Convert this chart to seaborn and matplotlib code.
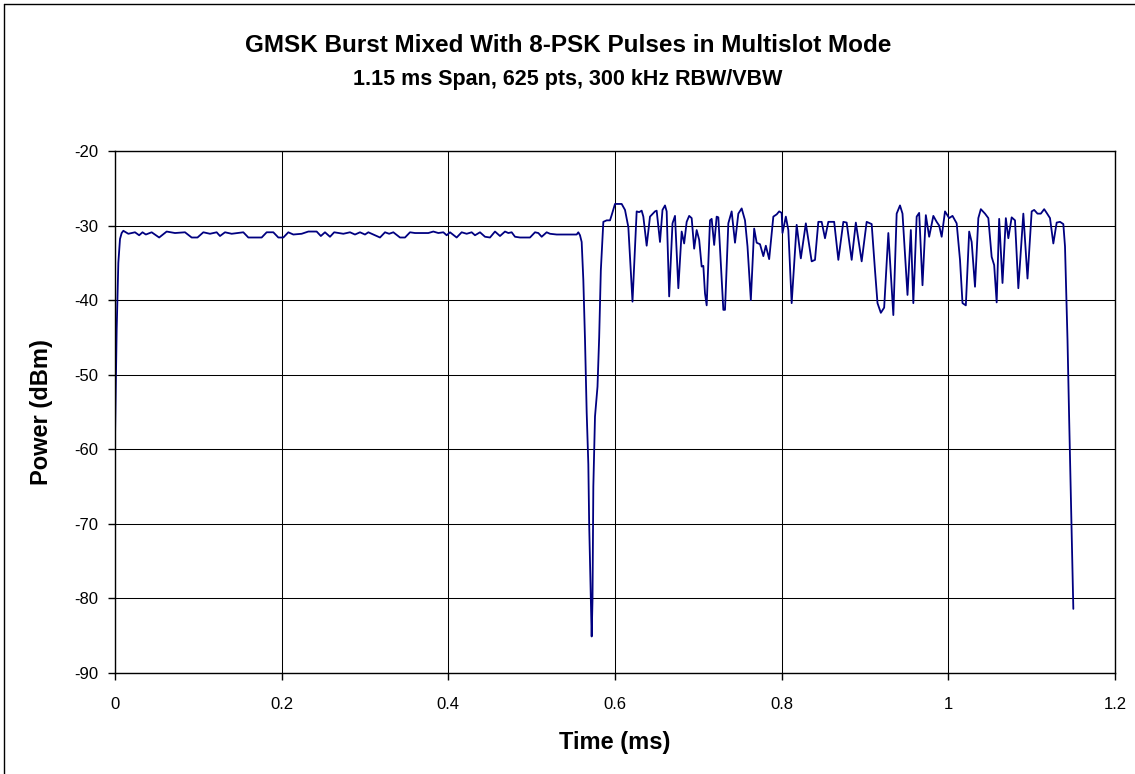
import matplotlib
matplotlib.use("Agg")
import pandas as pd
import matplotlib.pyplot as plt
import seaborn as sns
from matplotlib.lines import Line2D

# 読み取った波形 (時間 ms, 電力 dBm)
TIME_MS = [
    0.000, 0.002, 0.004, 0.006, 0.008, 0.010, 0.016, 0.024, 0.029, 0.033,
    0.037, 0.044, 0.053, 0.062, 0.072, 0.084, 0.092, 0.099, 0.106, 0.114,
    0.122, 0.126, 0.132, 0.140, 0.154, 0.160, 0.176, 0.182, 0.190, 0.196,
    0.202, 0.208, 0.214, 0.224, 0.232, 0.242, 0.247, 0.252, 0.258, 0.263,
    0.274, 0.282, 0.288, 0.294, 0.300, 0.304, 0.310, 0.318, 0.324, 0.329,
    0.334, 0.342, 0.348, 0.354, 0.360, 0.376, 0.382, 0.388, 0.394, 0.398,
    0.402, 0.410, 0.416, 0.422, 0.428, 0.432, 0.438, 0.444, 0.450, 0.456,
    0.462, 0.468, 0.472, 0.476, 0.480, 0.486, 0.498, 0.504, 0.508, 0.512,
    0.518, 0.522, 0.530, 0.554, 0.556, 0.558, 0.560, 0.562, 0.564, 0.566,
    0.568, 0.569, 0.571, 0.572, 0.573, 0.574, 0.576, 0.579, 0.581, 0.583,
    0.586, 0.590, 0.594, 0.596, 0.600, 0.608, 0.612, 0.616, 0.621, 0.626,
    0.629, 0.632, 0.634, 0.638, 0.642, 0.648, 0.650, 0.654, 0.657, 0.660,
    0.662, 0.665, 0.669, 0.672, 0.676, 0.680, 0.683, 0.686, 0.689, 0.692,
    0.695, 0.698, 0.701, 0.704, 0.706, 0.708, 0.710, 0.714, 0.716, 0.719,
    0.722, 0.724, 0.727, 0.730, 0.732, 0.736, 0.740, 0.744, 0.748, 0.752,
    0.756, 0.759, 0.763, 0.767, 0.770, 0.774, 0.778, 0.781, 0.785, 0.790,
    0.794, 0.797, 0.800, 0.801, 0.805, 0.808, 0.812, 0.818, 0.823, 0.829,
    0.836, 0.840, 0.844, 0.848, 0.852, 0.856, 0.863, 0.868, 0.874, 0.878,
    0.884, 0.889, 0.896, 0.902, 0.908, 0.912, 0.915, 0.919, 0.923, 0.928,
    0.934, 0.938, 0.942, 0.945, 0.951, 0.955, 0.958, 0.962, 0.965, 0.969,
    0.973, 0.977, 0.982, 0.986, 0.989, 0.992, 0.996, 1.001, 1.005, 1.010,
    1.014, 1.017, 1.021, 1.025, 1.028, 1.032, 1.036, 1.039, 1.044, 1.048,
    1.052, 1.055, 1.058, 1.061, 1.065, 1.069, 1.072, 1.076, 1.080, 1.084,
    1.090, 1.095, 1.100, 1.103, 1.107, 1.111, 1.115, 1.118, 1.122, 1.126,
    1.130, 1.134, 1.138, 1.140, 1.143, 1.145, 1.150,
]
POWER_DBM = [
    -58.5, -44.0, -35.0, -31.8, -31.0, -30.7, -31.1, -30.9, -31.3, -30.9,
    -31.2, -30.9, -31.6, -30.8, -31.0, -30.9, -31.6, -31.6, -30.9, -31.1,
    -30.9, -31.4, -30.9, -31.1, -30.9, -31.6, -31.6, -30.9, -30.9, -31.6,
    -31.6, -30.9, -31.2, -31.1, -30.8, -30.8, -31.4, -30.9, -31.5, -30.9,
    -31.1, -30.9, -31.2, -30.9, -31.2, -30.9, -31.2, -31.6, -30.9, -31.1,
    -30.9, -31.6, -31.6, -30.9, -31.0, -31.0, -30.8, -31.0, -30.9, -31.3,
    -30.9, -31.6, -30.9, -31.1, -30.9, -31.3, -30.9, -31.5, -31.6, -30.8,
    -31.4, -30.8, -31.0, -30.9, -31.5, -31.6, -31.6, -30.9, -31.0, -31.5,
    -30.9, -31.1, -31.2, -31.2, -30.9, -31.3, -32.2, -37.3, -45.3, -55.0,
    -62.0, -70.0, -80.2, -85.1, -80.2, -65.0, -55.6, -51.6, -45.0, -36.0,
    -29.5, -29.3, -29.3, -28.6, -27.1, -27.1, -27.9, -30.2, -40.2, -28.1,
    -28.2, -28.0, -28.8, -32.7, -28.8, -28.1, -28.0, -32.2, -27.9, -27.3,
    -28.1, -39.5, -29.7, -28.7, -38.4, -30.8, -32.4, -29.5, -28.7, -29.0,
    -33.1, -30.6, -31.9, -35.5, -35.4, -39.1, -40.7, -29.3, -29.1, -32.6,
    -28.8, -28.9, -35.1, -41.3, -41.3, -29.7, -28.1, -32.3, -28.4, -27.7,
    -29.3, -32.8, -40.0, -30.4, -32.3, -32.5, -34.1, -32.7, -34.5, -28.8,
    -28.5, -28.1, -28.3, -31.0, -28.8, -30.6, -40.4, -29.9, -34.4, -29.7,
    -34.8, -34.6, -29.5, -29.5, -31.7, -29.5, -29.5, -34.6, -29.5, -29.6,
    -34.6, -29.6, -34.8, -29.5, -29.8, -36.0, -40.4, -41.7, -41.0, -31.0,
    -42.0, -28.4, -27.3, -28.4, -39.3, -30.6, -40.4, -28.8, -28.3, -38.0,
    -28.6, -31.5, -28.7, -29.5, -30.0, -31.5, -28.1, -29.0, -28.7, -29.7,
    -34.6, -40.4, -40.7, -30.8, -32.2, -38.2, -29.0, -27.8, -28.4, -29.0,
    -34.2, -35.3, -40.3, -29.1, -37.7, -29.0, -31.7, -28.9, -29.3, -38.4,
    -28.4, -37.1, -28.1, -27.9, -28.4, -28.4, -27.8, -28.3, -29.0, -32.4,
    -29.6, -29.5, -29.8, -32.8, -45.3, -56.0, -81.4,
]

X_TICKS = [0, 0.2, 0.4, 0.6, 0.8, 1.0, 1.2]
X_TICK_LABELS = ["0", "0.2", "0.4", "0.6", "0.8", "1", "1.2"]
Y_TICKS = [-90, -80, -70, -60, -50, -40, -30, -20]

TITLE = "GMSK Burst Mixed With 8-PSK Pulses in Multislot Mode"
SUBTITLE = "1.15 ms Span, 625 pts, 300 kHz RBW/VBW"

sns.set_style("white")
plt.rcParams['font.family'] = ['Liberation Sans', 'DejaVu Sans']
plt.rcParams['axes.unicode_minus'] = False
plt.rcParams['text.color'] = 'black'
plt.rcParams['xtick.color'] = 'black'
plt.rcParams['ytick.color'] = 'black'

df = pd.DataFrame({"Time": TIME_MS, "Power": POWER_DBM})

W, H = 1135, 774
fig = plt.figure(figsize=(W / 100, H / 100), dpi=100)
ax = fig.add_axes([115 / W, 1 - 673 / H, 1000 / W, 522 / H])

sns.lineplot(data=df, x="Time", y="Power", sort=False, estimator=None,
             color="#000080", linewidth=1.3, ax=ax)

ax.set_xlim(0, 1.2)
ax.set_ylim(-90, -20)
ax.set_xticks(X_TICKS)
ax.set_xticklabels(X_TICK_LABELS)
ax.set_yticks(Y_TICKS)
ax.grid(True, color="black", linewidth=0.75)
ax.set_axisbelow(True)
for s in ax.spines.values():
    s.set_color("black")
    s.set_linewidth(1.0)
ax.tick_params(direction="out", length=5, width=1, color="black",
               labelsize=12, bottom=True, left=True)
ax.tick_params(axis="x", pad=12)
ax.tick_params(axis="y", pad=7)

ax.set_xlabel("")
ax.set_ylabel("")
fig.text(615 / W, 1 - 743 / H, "Time (ms)", ha="center", va="center",
         fontsize=17, fontweight="bold")
fig.text(42 / W, 1 - 412 / H, "Power (dBm)", ha="center", va="center",
         rotation=90, fontsize=17, fontweight="bold")
fig.text(568 / W, 1 - 45 / H, TITLE, ha="center", va="center",
         fontsize=17.5, fontweight="bold")
fig.text(568 / W, 1 - 80 / H, SUBTITLE, ha="center", va="center",
         fontsize=15.5, fontweight="bold")

# グラフ領域の枠線 (左と上のみ見えている)
fig.add_artist(Line2D([4 / W, 4 / W], [0, 1 - 4 / H], transform=fig.transFigure,
                      color="black", linewidth=1))
fig.add_artist(Line2D([4 / W, 1], [1 - 4 / H, 1 - 4 / H], transform=fig.transFigure,
                      color="black", linewidth=1))

fig.savefig("out.png", dpi=100)
